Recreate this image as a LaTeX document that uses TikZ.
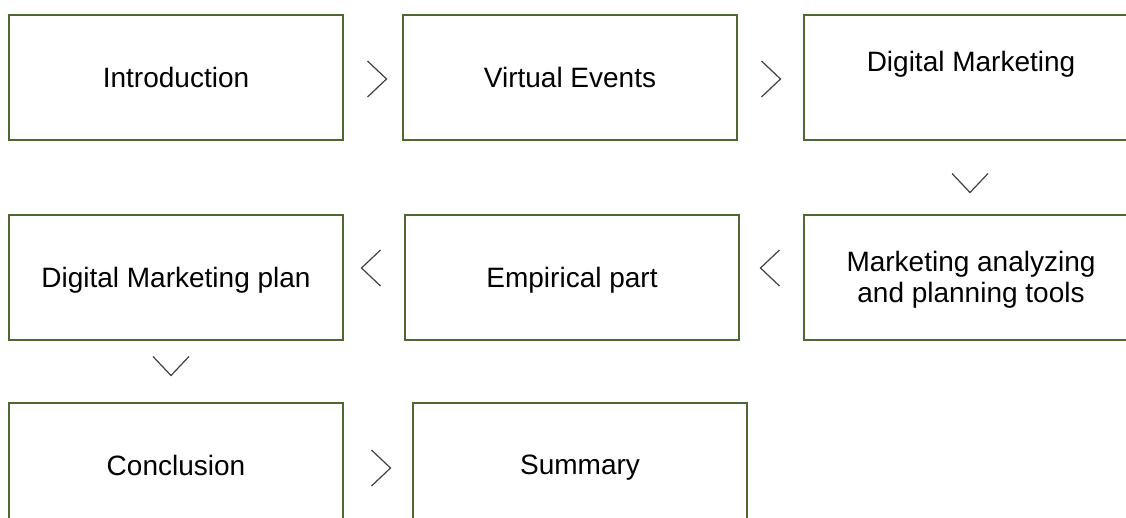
\documentclass[tikz,border=0pt]{standalone}
\usepackage{fontspec}
\setmainfont{Liberation Sans}
\definecolor{boxgreen}{RGB}{79,104,50}

\tikzset{
  every node/.style={font=\fontsize{28}{31}\selectfont},
  stage/.style={draw=boxgreen,line width=2pt,minimum width=334pt,minimum height=125pt,
    inner sep=0pt,align=center,text depth=0pt},
  chev/.pic={\draw[black!75,line width=1.2pt,line join=miter]
    (-9.5,-18) -- (9.5,0) -- (-9.5,18);}
}

\begin{document}
\begin{tikzpicture}[x=1pt,y=-1pt]
      \clip (0,0) rectangle (1126,517);
      \node [stage] (intro) at (176,77) {Introduction};
      \node [stage] (virtual) at (570,77) {Virtual Events};
      \node [stage] (digital) at (971,77) {Digital Marketing\\~};
      \node [stage] (tools) at (971,277) {Marketing analyzing\\and planning tools};
      \node [stage] (empirical) at (572,277) {Empirical part};
      \node [stage] (plan) at (176,277) {Digital Marketing plan};
      \node [stage] (concl) at (176,465) {Conclusion};
      \node [stage] (summary) at (580,465) {Summary};

      \foreach \cx/\cy/\ang in {377/79/0,771/79/0,970/183/-90,770/268/180,
                                371/268/180,171/366/-90,381/468/0}
        \pic [rotate=\ang] at (\cx,\cy) {chev};
    \end{tikzpicture}
\end{document}
